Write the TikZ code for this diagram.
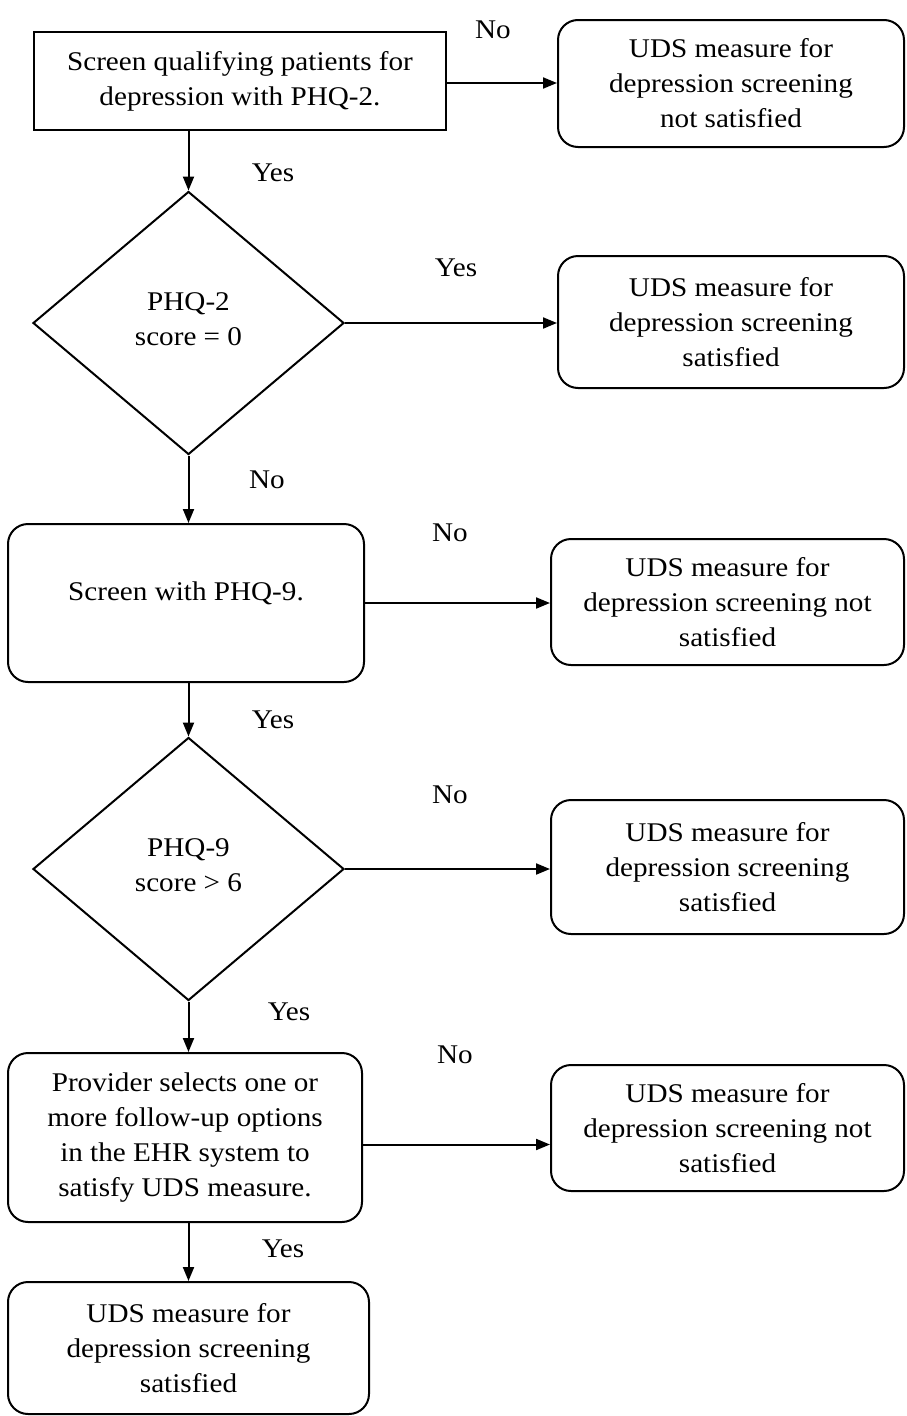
\documentclass[tikz,border=0pt]{standalone}
\usepackage{fontspec}
\setmainfont{Liberation Serif}[FakeStretch=1.08]
\usetikzlibrary{shapes.geometric,arrows.meta}
\begin{document}
\begin{tikzpicture}[x=1pt,y=-1pt,
  every node/.style={font=\fontsize{27}{35}\selectfont, align=center},
  sbox/.style={draw, line width=2pt, rectangle, inner sep=0pt},
  rbox/.style={draw, line width=2pt, rectangle, rounded corners=20pt, inner sep=0pt},
  dbox/.style={draw, line width=2pt, diamond, inner sep=0pt, minimum width=311pt, minimum height=263pt},
  arr/.style={line width=2pt, -{Triangle[length=14pt,width=11pt]}},
  lbl/.style={inner sep=0pt}]
\useasboundingbox (0,0) rectangle (906,1416);
% nodes
\node[sbox, minimum width=412pt, minimum height=98pt] (b1) at (240,81) {Screen qualifying patients for\\depression with PHQ-2.};
\node[rbox, minimum width=346pt, minimum height=127pt] (r1) at (731,83.5) {UDS measure for\\depression screening\\not satisfied};
\node[dbox] (d1) at (188.5,323) {\mbox{}\\[-25pt]PHQ-2\\score = 0};
\node[rbox, minimum width=346pt, minimum height=132pt] (r2) at (731,322) {UDS measure for\\depression screening\\satisfied};
\node[rbox, minimum width=356pt, minimum height=158pt] (b3) at (186,603) {Screen with PHQ-9.\\[-12pt]\mbox{}};
\node[rbox, minimum width=353pt, minimum height=126pt] (r3) at (727.5,602) {UDS measure for\\depression screening not\\satisfied};
\node[dbox] (d2) at (188.5,869) {\mbox{}\\[-25pt]PHQ-9\\score {\textgreater} 6};
\node[rbox, minimum width=353pt, minimum height=134pt] (r4) at (727.5,867) {UDS measure for\\depression screening\\satisfied};
\node[rbox, minimum width=354pt, minimum height=169pt] (b5) at (185,1137.5) {Provider selects one or\\more follow-up options\\in the EHR system to\\satisfy UDS measure.};
\node[rbox, minimum width=353pt, minimum height=126pt] (r5) at (727.5,1128) {UDS measure for\\depression screening not\\satisfied};
\node[rbox, minimum width=361pt, minimum height=132pt] (b6) at (188.5,1348) {UDS measure for\\depression screening\\satisfied};
% labels
\node[lbl] (l1) at (493,30) {No};
\node[lbl] (l2) at (273,173) {Yes};
\node[lbl] (l3) at (456,268) {Yes};
\node[lbl] (l4) at (267,480) {No};
\node[lbl] (l5) at (450,533) {No};
\node[lbl] (l6) at (273,720) {Yes};
\node[lbl] (l7) at (450,795) {No};
\node[lbl] (l8) at (289,1012) {Yes};
\node[lbl] (l9) at (455,1055) {No};
\node[lbl] (l10) at (283,1249) {Yes};
% connectors
\draw[arr] ([yshift=-2pt]b1.east) -- ([yshift=-2pt]b1.east -| r1.west);
\draw[arr] (b1.south -| d1.north) -- (d1.north);
\draw[arr] (d1.east) -- (d1.east -| r2.west);
\draw[arr] (d1.south) -- (d1.south |- b3.north);
\draw[arr] (b3.east) -- (b3.east -| r3.west);
\draw[arr] (b3.south -| d2.north) -- (d2.north);
\draw[arr] (d2.east) -- (d2.east -| r4.west);
\draw[arr] (d2.south) -- (d2.south |- b5.north);
\draw[arr] ([yshift=-7pt]b5.east) -- ([yshift=-7pt]b5.east -| r5.west);
\draw[arr] (b6.north |- b5.south) -- (b6.north);
\end{tikzpicture}
\end{document}
